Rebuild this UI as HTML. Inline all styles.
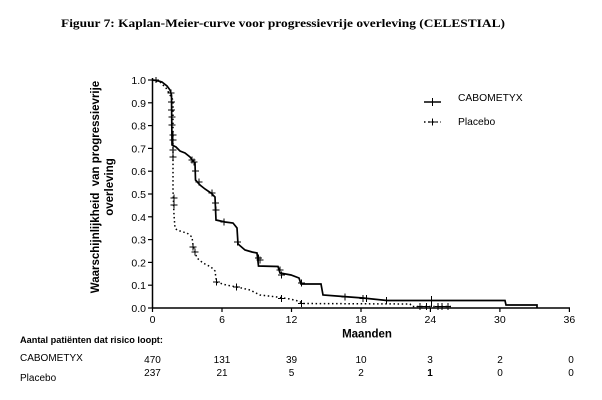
<!DOCTYPE html>
<html><head><meta charset="utf-8"><style>
html,body{margin:0;padding:0;background:#fff;}
svg{display:block;}
text{font-family:"Liberation Sans",Arial,sans-serif;fill:#000;}
</style></head><body>
<svg width="602" height="400" viewBox="0 0 602 400" xmlns="http://www.w3.org/2000/svg">
<rect width="602" height="400" fill="#fff"/>
<text x="61" y="27" style="font-family:'Liberation Serif',serif;font-weight:bold;font-size:12px" textLength="444" lengthAdjust="spacingAndGlyphs">Figuur 7: Kaplan-Meier-curve voor progressievrije overleving (CELESTIAL)</text>

<!-- axes -->
<g stroke="#000" stroke-width="1.5" fill="none">
<line x1="152.5" y1="78" x2="152.5" y2="308"/>
<line x1="152" y1="308" x2="570" y2="308"/>
</g>
<g stroke="#000" stroke-width="1.2">
<line x1="148" y1="308" x2="152" y2="308"/>
<line x1="148" y1="285.2" x2="152" y2="285.2"/>
<line x1="148" y1="262.4" x2="152" y2="262.4"/>
<line x1="148" y1="239.6" x2="152" y2="239.6"/>
<line x1="148" y1="216.8" x2="152" y2="216.8"/>
<line x1="148" y1="194" x2="152" y2="194"/>
<line x1="148" y1="171.2" x2="152" y2="171.2"/>
<line x1="148" y1="148.4" x2="152" y2="148.4"/>
<line x1="148" y1="125.6" x2="152" y2="125.6"/>
<line x1="148" y1="102.8" x2="152" y2="102.8"/>
<line x1="148" y1="80" x2="152" y2="80"/>
<line x1="152.5" y1="308" x2="152.5" y2="312"/>
<line x1="222" y1="308" x2="222" y2="312"/>
<line x1="291.5" y1="308" x2="291.5" y2="312"/>
<line x1="361" y1="308" x2="361" y2="312"/>
<line x1="430.4" y1="308" x2="430.4" y2="312"/>
<line x1="499.9" y1="308" x2="499.9" y2="312"/>
<line x1="569.4" y1="308" x2="569.4" y2="312"/>
</g>
<g style="font-size:10.5px;fill:#222" text-anchor="end">
<text x="146" y="312">0.0</text>
<text x="146" y="289.2">0.1</text>
<text x="146" y="266.4">0.2</text>
<text x="146" y="243.6">0.3</text>
<text x="146" y="220.8">0.4</text>
<text x="146" y="198">0.5</text>
<text x="146" y="175.2">0.6</text>
<text x="146" y="152.4">0.7</text>
<text x="146" y="129.6">0.8</text>
<text x="146" y="106.8">0.9</text>
<text x="146" y="84">1.0</text>
</g>
<g style="font-size:10.5px" text-anchor="middle">
<text x="152.5" y="323">0</text>
<text x="222" y="323">6</text>
<text x="291.5" y="323">12</text>
<text x="361" y="323">18</text>
<text x="430.4" y="323">24</text>
<text x="499.9" y="323">30</text>
<text x="569.4" y="323">36</text>
</g>
<text x="367" y="337.5" text-anchor="middle" style="font-size:11.5px;font-weight:bold">Maanden</text>

<!-- y label -->
<g transform="translate(99,187) rotate(-90)" style="font-size:11.5px;font-weight:bold" text-anchor="middle">
<text x="0" y="0">Waarschijnlijkheid&#160; van progressievrije</text>
<text x="0" y="14">overleving</text>
</g>

<!-- CABOMETYX -->
<path d="M152,80 L157,80.5 L162,82 L167,86 L170,90 L171.5,95 L172,145 L176,147 L180,151 L185,153 L190,157 L193,161 L195,163 L195.5,180 L200,185 L205,189 L211,193 L215,197 L216,220 L225,222 L233,223 L237,228 L238,244 L245,250 L252,252 L257,253 L258.5,266 L278,266.5 L280,273 L291,275 L299,278 L301,284 L321,284 L323,295 L343,296.5 L363,298 L387,300.5 L505,300.5 L506,305 L537,305 L537,308" fill="none" stroke="#000" stroke-width="1.7"/>
<g stroke="#000" stroke-width="1">
<path d="M153,80h6M156,77v6 M167.5,93h7M171,89.5v7 M168,102h7M171.5,98.5v7 M168,110h7M171.5,106.5v7 M168.5,117h7M172,113.5v7 M168.5,125h7M172,121.5v7 M169.5,135h7M173,131.5v7 M169.5,140h7M173,136.5v7 M188.5,160h7M192,156.5v7 M190.5,162h7M194,158.5v7 M192,171h7M195.5,167.5v7 M195.5,182h7M199,178.5v7 M208.5,193h7M212,189.5v7 M212,203h7M215.5,199.5v7 M212.5,210h7M216,206.5v7 M220.5,222h7M224,218.5v7 M234,242h7M237.5,238.5v7 M255,258h7M258.5,254.5v7 M256.5,260h7M260,256.5v7 M276.5,270h7M280,266.5v7 M278,275h7M281.5,271.5v7 M298,283h7M301.5,279.5v7 M341.5,297h7M345,293.5v7 M359.5,298.5h7M363,295v7 M363,298.5h7M366.5,295v7 M383,300.5h7M386.5,297v7 M431.5,296v11"/>
</g>

<!-- Placebo -->
<path d="M152,80 L160,82 L166,88 L170,95 L173,100 L173,190 L174,215 L175,228 L177,230 L183,232 L187,233 L192,237 L193,245 L195,252 L197,258 L203,263 L211,267 L215,271 L216.5,282 L226,285 L237,287 L250,290 L260,295 L277,297 L290,299 L300,301.5 L302,303.5 L410,304 L412,306.5 L451,306.5" fill="none" stroke="#000" stroke-width="1.5" stroke-dasharray="1.5 2.6"/>
<g stroke="#000" stroke-width="1">
<path d="M169.5,150h7M173,146.5v7 M169.5,157h7M173,153.5v7 M170.5,198h7M174,194.5v7 M170.5,205h7M174,201.5v7 M189.5,247h7M193,243.5v7 M191.5,252h7M195,248.5v7 M213,282h7M216.5,278.5v7 M233,287h7M236.5,283.5v7 M278,298.5h7M281.5,295v7 M298,303.5h7M301.5,300v7 M416.5,306.5h7M420,303v7 M423,306.5h7M426.5,303v7 M435,306.5h6M438,303v7 M439,306.5h6M442,303v7 M445,306.5h6M448,303v7"/>
</g>

<!-- legend -->
<line x1="424" y1="102" x2="441" y2="102" stroke="#000" stroke-width="1.6"/>
<line x1="432.5" y1="98" x2="432.5" y2="106" stroke="#000" stroke-width="1"/>
<text x="458" y="101" style="font-size:10.3px">CABOMETYX</text>
<line x1="424" y1="122" x2="441" y2="122" stroke="#000" stroke-width="1.5" stroke-dasharray="1.5 2.6"/>
<line x1="432.5" y1="118.5" x2="432.5" y2="125.5" stroke="#000" stroke-width="1"/>
<line x1="429" y1="122" x2="436" y2="122" stroke="#000" stroke-width="1"/>
<text x="458" y="125" style="font-size:10.3px">Placebo</text>

<!-- risk table -->
<text x="20" y="343" style="font-size:9.2px;font-weight:bold">Aantal patiënten dat risico loopt:</text>
<text x="20" y="361" style="font-size:10px">CABOMETYX</text>
<text x="20" y="381" style="font-size:10px">Placebo</text>
<g style="font-size:10px" text-anchor="middle">
<text x="152.5" y="363">470</text>
<text x="222" y="363">131</text>
<text x="291.5" y="363">39</text>
<text x="361" y="363">10</text>
<text x="430" y="363">3</text>
<text x="500" y="363">2</text>
<text x="571" y="363">0</text>
<text x="152.5" y="376">237</text>
<text x="222" y="376">21</text>
<text x="291.5" y="376">5</text>
<text x="361" y="376">2</text>
<text x="430" y="376" style="font-weight:bold">1</text>
<text x="500" y="376">0</text>
<text x="571" y="376">0</text>
</g>
</svg>
</body></html>
